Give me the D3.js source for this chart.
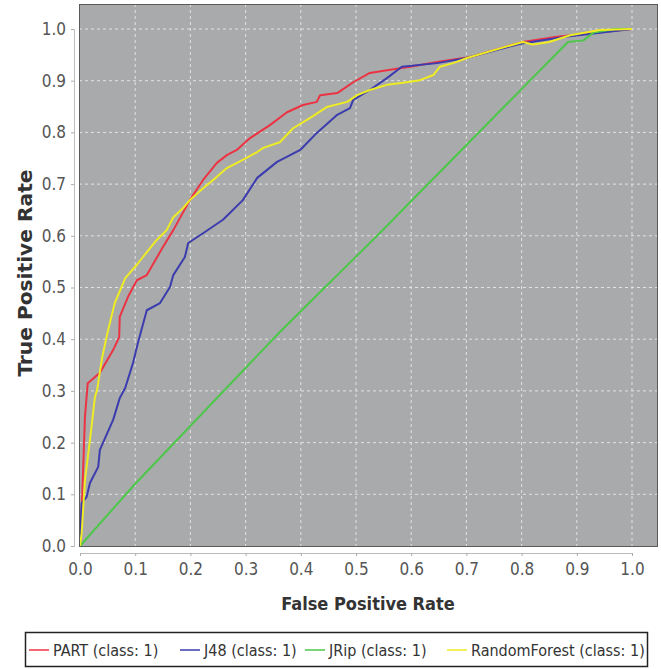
<!DOCTYPE html>
<html>
<head>
<meta charset="utf-8">
<script src="https://cdn.jsdelivr.net/npm/d3@7"></script>
<style>
  body { margin: 0; background: #fff; }
  text { font-family: "DejaVu Sans Condensed", "DejaVu Sans", sans-serif; }
</style>
</head>
<body>
<svg id="roc" width="661" height="669"></svg>
<script>
// ROC points: [false positive rate, true positive rate]
const partPoints = [
  [0, 0], [0.004, 0.095], [0.009, 0.25], [0.014, 0.315], [0.036, 0.335],
  [0.06, 0.379], [0.071, 0.404], [0.072, 0.443], [0.087, 0.482], [0.103, 0.514],
  [0.121, 0.524], [0.15, 0.578], [0.169, 0.611], [0.199, 0.669], [0.223, 0.708],
  [0.248, 0.741], [0.266, 0.756], [0.284, 0.766], [0.308, 0.789], [0.344, 0.814],
  [0.375, 0.839], [0.404, 0.853], [0.429, 0.859], [0.435, 0.872], [0.466, 0.876],
  [0.495, 0.897], [0.525, 0.915], [0.562, 0.921], [0.598, 0.927], [0.647, 0.936],
  [0.707, 0.946], [0.802, 0.975], [0.864, 0.985], [0.924, 0.992], [1, 1]
];
const j48Points = [
  [0, 0], [0.003, 0.083], [0.012, 0.095], [0.018, 0.122], [0.033, 0.153],
  [0.036, 0.186], [0.06, 0.244], [0.072, 0.286], [0.082, 0.306], [0.096, 0.354],
  [0.105, 0.393], [0.121, 0.456], [0.145, 0.47], [0.163, 0.501], [0.169, 0.524],
  [0.19, 0.559], [0.196, 0.586], [0.223, 0.605], [0.259, 0.631], [0.295, 0.669],
  [0.321, 0.712], [0.357, 0.743], [0.399, 0.766], [0.429, 0.799], [0.466, 0.834],
  [0.489, 0.847], [0.495, 0.863], [0.525, 0.882], [0.556, 0.905], [0.583, 0.927],
  [0.647, 0.934], [0.70, 0.944], [0.80, 0.972], [0.88, 0.985], [1, 1]
];
const jripPoints = [
  [0, 0], [0.098, 0.118], [0.362, 0.414], [0.54, 0.602], [0.884, 0.975],
  [0.912, 0.978], [0.93, 0.993], [0.97, 1], [1, 1]
];
const rfPoints = [
  [0, 0], [0.003, 0.025], [0.009, 0.128], [0.018, 0.205], [0.027, 0.288],
  [0.031, 0.302], [0.04, 0.364], [0.051, 0.418], [0.063, 0.47], [0.082, 0.518],
  [0.103, 0.544], [0.114, 0.559], [0.139, 0.592], [0.157, 0.611], [0.169, 0.636],
  [0.187, 0.654], [0.199, 0.669], [0.223, 0.692], [0.248, 0.714], [0.266, 0.731],
  [0.295, 0.747], [0.321, 0.762], [0.332, 0.77], [0.362, 0.781], [0.386, 0.808],
  [0.417, 0.828], [0.447, 0.849], [0.484, 0.859], [0.502, 0.872], [0.525, 0.882],
  [0.556, 0.892], [0.585, 0.896], [0.616, 0.901], [0.64, 0.911], [0.652, 0.927],
  [0.676, 0.934], [0.701, 0.944], [0.802, 0.975], [0.82, 0.97], [0.85, 0.975],
  [0.888, 0.988], [0.942, 0.998], [1, 1]
];

const seriesNames = ["PART (class: 1)", "J48 (class: 1)", "JRip (class: 1)", "RandomForest (class: 1)"];
const seriesColors = ["#ec3343", "#3b3cae", "#4cc74a", "#eeec22"];
const seriesPoints = [partPoints, j48Points, jripPoints, rfPoints];
const tickValues = [0, 0.1, 0.2, 0.3, 0.4, 0.5, 0.6, 0.7, 0.8, 0.9, 1.0];

const svg = d3.select("#roc");

// plot box and where 0 / 1 land inside it
const box = {left: 79, top: 4, right: 658, bottom: 547};
const x = d3.scaleLinear().domain([0, 1]).range([80, 632]);
const y = d3.scaleLinear().domain([0, 1]).range([546, 29]);

svg.append("rect")
  .attr("x", box.left).attr("y", box.top)
  .attr("width", box.right - box.left).attr("height", box.bottom - box.top)
  .attr("fill", "#a9aaab");

// dashed grid
const grid = svg.append("g").attr("stroke", "#e2e2e2").attr("stroke-dasharray", "3,3");
grid.selectAll("line.v").data(tickValues.slice(1)).join("line")
  .attr("class", "v")
  .attr("x1", d => x(d)).attr("x2", d => x(d))
  .attr("y1", box.top).attr("y2", box.bottom);
grid.selectAll("line.h").data(tickValues.slice(1)).join("line")
  .attr("class", "h")
  .attr("x1", box.left).attr("x2", box.right)
  .attr("y1", d => y(d)).attr("y2", d => y(d));

// curves
const line = d3.line().x(d => x(d[0])).y(d => y(d[1]));
svg.append("g").selectAll("path").data(seriesPoints).join("path")
  .attr("d", line)
  .attr("fill", "none")
  .attr("stroke", (d, i) => seriesColors[i])
  .attr("stroke-width", 2)
  .attr("stroke-linejoin", "round");

svg.append("rect")
  .attr("x", box.left + 0.5).attr("y", box.top + 0.5)
  .attr("width", box.right - box.left - 1).attr("height", box.bottom - box.top - 1)
  .attr("fill", "none").attr("stroke", "#5a5a5a");

// axes, offset from the plot like the original
const fmt = d3.format(".1f");
const xAxis = svg.append("g")
  .attr("transform", "translate(0,553)")
  .call(d3.axisBottom(x).tickValues(tickValues).tickFormat(fmt).tickSize(3).tickPadding(7));
const yAxis = svg.append("g")
  .attr("transform", "translate(74,0)")
  .call(d3.axisLeft(y).tickValues(tickValues).tickFormat(fmt).tickSize(3).tickPadding(5));

[xAxis, yAxis].forEach(a => {
  a.select(".domain").attr("stroke", "#bbb");
  a.selectAll(".tick line").attr("stroke", "#aaa");
  a.selectAll(".tick text")
    .attr("fill", "#555")
    .style("font-size", "17px");
});

svg.append("text")
  .attr("x", 368).attr("y", 610)
  .attr("text-anchor", "middle")
  .attr("fill", "#333")
  .style("font-size", "18px").style("font-weight", "bold")
  .text("False Positive Rate");

svg.append("text")
  .attr("transform", "translate(32,273) rotate(-90)")
  .attr("text-anchor", "middle")
  .attr("fill", "#333")
  .attr("textLength", 207).attr("lengthAdjust", "spacingAndGlyphs")
  .style("font-size", "20px").style("font-weight", "bold")
  .text("True Positive Rate");

// legend
const legendX = [29, 180, 305, 447];
svg.append("rect")
  .attr("x", 25.5).attr("y", 632.5).attr("width", 622).attr("height", 34)
  .attr("fill", "#fff").attr("stroke", "#222").attr("stroke-width", 1.5);

const item = svg.append("g").selectAll("g").data(seriesNames).join("g")
  .attr("transform", (d, i) => `translate(${legendX[i]},650)`);
item.append("line")
  .attr("x1", 0).attr("x2", 20)
  .attr("stroke", (d, i) => seriesColors[i]).attr("stroke-width", 1.5);
item.append("text")
  .attr("x", 24).attr("dy", "0.36em")
  .attr("fill", "#333")
  .style("font-size", "16px")
  .text(d => d);
</script>
</body>
</html>
